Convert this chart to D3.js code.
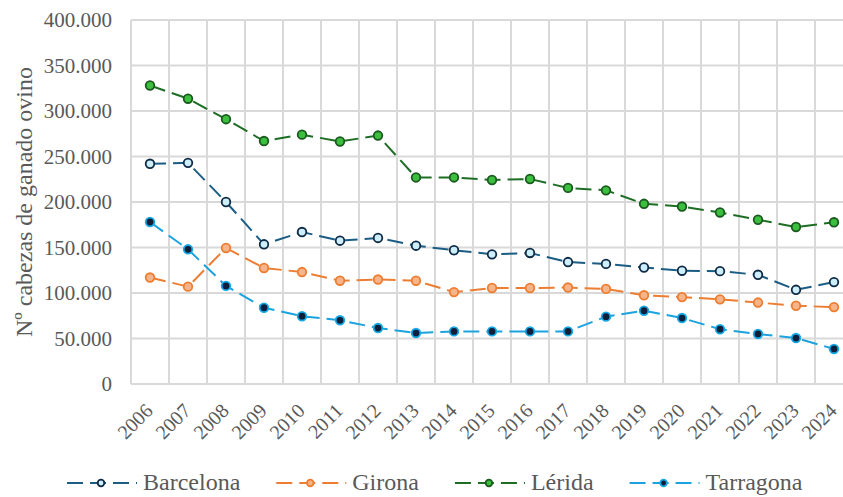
<!DOCTYPE html>
<html>
<head>
<meta charset="utf-8">
<script src="https://cdn.jsdelivr.net/npm/d3@7"></script>
<style>
  html, body { margin: 0; padding: 0; background: #fff; }
  svg { display: block; }
</style>
</head>
<body>
<svg id="chart" width="843" height="497"></svg>
<script>
const years = ["2006","2007","2008","2009","2010","2011","2012","2013","2014","2015","2016","2017","2018","2019","2020","2021","2022","2023","2024"];
const barcelona = [242000, 243000, 200000, 153500, 167000, 157500, 160500, 152000, 147000, 142500, 144000, 134000, 132000, 128000, 124500, 124000, 120000, 103500, 112000];
const girona    = [117000, 107000, 149500, 127500, 123000, 113500, 114800, 113500, 101000, 105500, 105500, 106000, 104500, 97500, 95500, 93000, 89500, 86000, 84500];
const lerida    = [328000, 313500, 291000, 267000, 274000, 266500, 273000, 227000, 227000, 224200, 225300, 215500, 212800, 198000, 195000, 188500, 180500, 172500, 177700];
const tarragona = [178000, 148000, 107800, 83800, 74500, 70000, 61500, 56000, 57800, 57800, 57800, 57800, 74000, 80500, 72500, 60200, 55000, 50500, 38500];
const seriesNames = ["Barcelona", "Girona", "Lérida", "Tarragona"];
const yTicks = [0, 50000, 100000, 150000, 200000, 250000, 300000, 350000, 400000];
const yTitle = "Nº cabezas de ganado ovino";

const FONT = "'Liberation Serif', 'Times New Roman', 'DejaVu Serif', serif";
const styles = [
  { line: "#1b5d85", fill: "#cdeefb", stroke: "#0f2a44" },
  { line: "#ed7d31", fill: "#f5b48a", stroke: "#ed7d31" },
  { line: "#1d6e24", fill: "#3cbf3f", stroke: "#1b5a1f" },
  { line: "#1aa3de", fill: "#0e1f3b", stroke: "#15a9e6" }
];
const seriesData = [barcelona, girona, lerida, tarragona];

const svg = d3.select("#chart");
const x = d3.scaleBand().domain(years).range([131, 853]).padding(0);
const y = d3.scaleLinear().domain([0, 400000]).range([384, 20]);
const loc = d3.formatLocale({ decimal: ",", thousands: ".", grouping: [3], currency: ["", "€"] });
const fmt = loc.format(",d");

// gridlines
const grid = svg.append("g");
grid.selectAll("line.h").data(yTicks).join("line")
  .attr("x1", 131).attr("x2", 853)
  .attr("y1", d => y(d)).attr("y2", d => y(d))
  .attr("stroke", "#d9d9d9").attr("stroke-width", 2);
const vb = years.map(d => x(d)).concat([x.range()[1]]);
grid.selectAll("line.v").data(vb).join("line")
  .attr("x1", d => d).attr("x2", d => d)
  .attr("y1", y(400000)).attr("y2", y(0))
  .attr("stroke", "#d9d9d9").attr("stroke-width", 2);

// y axis labels
svg.append("g").selectAll("text").data(yTicks).join("text")
  .attr("x", 112).attr("y", d => y(d)).attr("dy", "0.35em")
  .attr("text-anchor", "end")
  .attr("font-family", FONT).attr("font-size", 21).attr("fill", "#595959")
  .text(d => fmt(d));

// x axis labels
svg.append("g").selectAll("text").data(years).join("text")
  .attr("transform", d => `translate(${x(d) + x.bandwidth() / 2 + 4},412) rotate(-45)`)
  .attr("text-anchor", "end")
  .attr("font-family", FONT).attr("font-size", 20).attr("fill", "#595959")
  .text(d => d);

// y title
svg.append("text")
  .attr("transform", "translate(32,202) rotate(-90)")
  .attr("text-anchor", "middle")
  .attr("font-family", FONT).attr("font-size", 24).attr("fill", "#595959")
  .text(yTitle);

// series
const line = d3.line().x((d, i) => x(years[i]) + x.bandwidth() / 2).y(d => y(d));
seriesData.forEach((data, si) => {
  const g = svg.append("g");
  g.append("path").datum(data).attr("d", line)
    .attr("fill", "none").attr("stroke", styles[si].line)
    .attr("stroke-width", 2).attr("stroke-dasharray", "16,7");
  g.selectAll("circle").data(data).join("circle")
    .attr("cx", (d, i) => x(years[i]) + x.bandwidth() / 2)
    .attr("cy", d => y(d)).attr("r", 4.3)
    .attr("fill", styles[si].fill).attr("stroke", styles[si].stroke)
    .attr("stroke-width", 1.8);
});

// legend
const leg = svg.append("g");
let lx = 67;
const ly = 483;
seriesNames.forEach((name, si) => {
  const g = leg.append("g");
  g.append("line").attr("x1", lx).attr("x2", lx + 70).attr("y1", ly).attr("y2", ly)
    .attr("stroke", styles[si].line).attr("stroke-width", 2).attr("stroke-dasharray", "16,7");
  g.append("circle").attr("cx", lx + 34).attr("cy", ly).attr("r", 3.3)
    .attr("fill", styles[si].fill).attr("stroke", styles[si].stroke).attr("stroke-width", 1.8);
  const t = g.append("text").attr("x", lx + 76).attr("y", 490)
    .attr("font-family", FONT).attr("font-size", 24).attr("fill", "#595959")
    .text(name);
  lx = lx + 76 + t.node().getComputedTextLength() + 36;
});
</script>
</body>
</html>
